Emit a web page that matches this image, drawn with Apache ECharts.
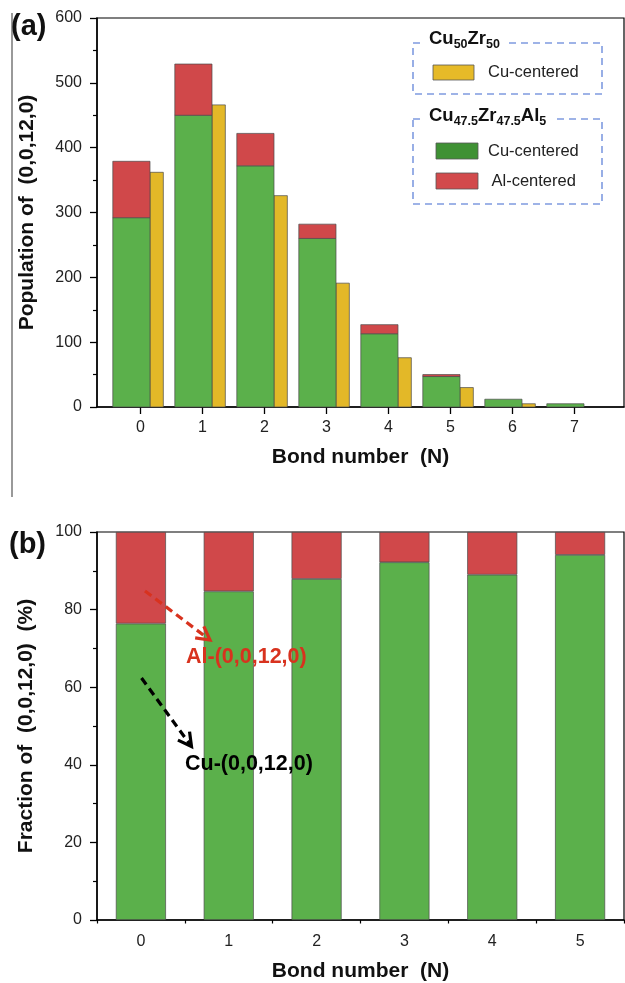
<!DOCTYPE html>
<html><head><meta charset="utf-8">
<script src="https://cdn.jsdelivr.net/npm/echarts@6/dist/echarts.min.js"></script>
<style>html,body{margin:0;padding:0;background:#fff}#c{width:625px;height:983px}</style>
</head><body><div id="c"></div>
<script>
// ---- Panel (a): population of (0,0,12,0) vs bond number ----
const bondNumbersA = [0, 1, 2, 3, 4, 5, 6, 7];
const alloyCuCentered = [292, 450, 372, 260, 113, 47, 12, 5];   // Cu47.5Zr47.5Al5, Cu-centered
const alloyAlCentered = [87, 79, 50, 22, 14, 3, 0, 0];          // Cu47.5Zr47.5Al5, Al-centered
const binaryCuCentered = [362, 466, 326, 191, 76, 30, 5, 0];    // Cu50Zr50, Cu-centered

// ---- Panel (b): fraction of (0,0,12,0) ----
const bondNumbersB = ['0', '1', '2', '3', '4', '5'];
const fractionCu = [76.4, 84.7, 87.9, 92.2, 89.0, 94.1];
const fractionAl = [23.6, 15.3, 12.1, 7.8, 11.0, 5.9];

const FONT = '"Liberation Sans", Arial, Helvetica, sans-serif';
const GREEN = '#5bb04b', RED = '#d0484a', YELLOW = '#e3b828';
const LEG_GREEN = '#3f9134', LEG_RED = '#d24a4c', LEG_YELLOW = '#e6ba28';
const ANN_RED = '#d8321e';

const chart = echarts.init(document.getElementById('c'), null, {renderer: 'canvas'});

function barRenderer(left, right, fill) {
  return function (params, api) {
    const x = api.value(0), lo = api.value(1), hi = api.value(2);
    if (hi - lo <= 0) return null;
    const p1 = api.coord([x + left, hi]);
    const p2 = api.coord([x + right, lo]);
    return {
      type: 'rect',
      shape: {x: p1[0], y: p1[1], width: p2[0] - p1[0], height: p2[1] - p1[1]},
      style: {fill: fill, stroke: '#4a4a4a', lineWidth: 0.7}
    };
  };
}

function arrow(x1, y1, x2, y2, color) {
  const ang = Math.atan2(y2 - y1, x2 - x1), L = 15, a = 0.5;
  const pA = [x2 - L * Math.cos(ang - a), y2 - L * Math.sin(ang - a)];
  const pB = [x2 - L * Math.cos(ang + a), y2 - L * Math.sin(ang + a)];
  return [
    {type: 'line', z: 100, shape: {x1: x1, y1: y1, x2: x2 - 3 * Math.cos(ang), y2: y2 - 3 * Math.sin(ang)},
     style: {stroke: color, lineWidth: 3.2, lineDash: [8, 5]}},
    {type: 'polyline', z: 100, shape: {points: [pA, [x2, y2], pB]},
     style: {stroke: color, lineWidth: 3.2, fill: null}}
  ];
}

const axisLineStyle = {color: '#000', width: 1.5};
const labelStyle = {fontSize: 16, color: '#222', fontFamily: FONT};
const nameStyle = {fontSize: 21, fontWeight: 'bold', color: '#111', fontFamily: FONT};

function legendTitle(x, y, rich) {
  return {
    type: 'text', z: 100, left: x, top: y,
    style: {
      text: rich, fill: '#111', backgroundColor: '#fff', padding: [0, 6, 0, 4],
      rich: {
        m: {fontSize: 18.5, fontWeight: 'bold', fontFamily: FONT, lineHeight: 24, fill: '#111'},
        s: {fontSize: 12.5, fontWeight: 'bold', fontFamily: FONT, lineHeight: 12, verticalAlign: 'bottom', fill: '#111'}
      }
    }
  };
}
function swatch(x, y, w, h, color) {
  return {type: 'rect', z: 100, shape: {x: x, y: y, width: w, height: h},
          style: {fill: color, stroke: '#555', lineWidth: 0.8}};
}
function legText(x, cy, t) {
  return {type: 'text', z: 100, x: x, y: cy,
          style: {text: t, fontSize: 16.5, fontFamily: FONT, fill: '#222', verticalAlign: 'middle'}};
}
const dashBox = (x, y, w, h) => ({type: 'rect', z: 99, shape: {x: x, y: y, width: w, height: h},
  style: {fill: null, stroke: '#7f9be0', lineWidth: 1.6, lineDash: [7, 5]}});

const option = {
  animation: false,
  backgroundColor: '#fff',
  grid: [
    {left: 97, right: 1, top: 18, height: 389, show: true, borderColor: '#000', borderWidth: 1.2, backgroundColor: 'transparent'},
    {left: 97, right: 1, top: 532, height: 390, show: true, borderColor: '#000', borderWidth: 1.2, backgroundColor: 'transparent'}
  ],
  xAxis: [
    {
      gridIndex: 0, type: 'value', min: -0.7, max: 7.8,
      axisLine: {onZero: false, lineStyle: axisLineStyle},
      axisTick: {customValues: bondNumbersA, length: 7, lineStyle: {color: '#000', width: 1.3}},
      axisLabel: Object.assign({customValues: bondNumbersA, margin: 13}, labelStyle),
      splitLine: {show: false},
      name: 'Bond number  (N)', nameLocation: 'middle', nameGap: 40, nameTextStyle: nameStyle
    },
    {
      gridIndex: 1, type: 'category', data: bondNumbersB, boundaryGap: true,
      axisLine: {onZero: false, lineStyle: axisLineStyle},
      axisTick: {alignWithLabel: true, length: 7, lineStyle: {color: '#000', width: 1.3}},
      axisLabel: Object.assign({margin: 14}, labelStyle),
      splitLine: {show: false},
      name: 'Bond number  (N)', nameLocation: 'middle', nameGap: 41, nameTextStyle: nameStyle
    },
    {
      gridIndex: 1, type: 'category', data: bondNumbersB, boundaryGap: true, position: 'bottom',
      axisLine: {show: false},
      axisTick: {show: true, alignWithLabel: false, length: 3.5, lineStyle: {color: '#000', width: 1.2}},
      axisLabel: {show: false}, splitLine: {show: false}
    }
  ],
  yAxis: [
    {
      gridIndex: 0, type: 'value', min: 0, max: 600, interval: 100,
      axisLine: {show: true, onZero: false, lineStyle: axisLineStyle},
      axisTick: {show: true, length: 7, lineStyle: {color: '#000', width: 1.3}},
      minorTick: {show: true, splitNumber: 2, length: 4, lineStyle: {color: '#000', width: 1.2}},
      axisLabel: Object.assign({margin: 15}, labelStyle),
      splitLine: {show: false},
      name: 'Population of  (0,0,12,0)', nameLocation: 'middle', nameGap: 59, nameTextStyle: nameStyle
    },
    {
      gridIndex: 1, type: 'value', min: 0, max: 100, interval: 20,
      axisLine: {show: true, onZero: false, lineStyle: axisLineStyle},
      axisTick: {show: true, length: 7, lineStyle: {color: '#000', width: 1.3}},
      minorTick: {show: true, splitNumber: 2, length: 4, lineStyle: {color: '#000', width: 1.2}},
      axisLabel: Object.assign({margin: 15}, labelStyle),
      splitLine: {show: false},
      name: 'Fraction of  (0,0,12,0)  (%)', nameLocation: 'middle', nameGap: 60, nameTextStyle: nameStyle
    }
  ],
  series: [
    {
      name: 'Cu50Zr50 Cu-centered', type: 'custom', xAxisIndex: 0, yAxisIndex: 0,
      renderItem: barRenderer(0.155, 0.37, YELLOW), encode: {x: 0, y: [1, 2]},
      data: bondNumbersA.map((n, i) => [n, 0, binaryCuCentered[i]])
    },
    {
      name: 'Cu47.5Zr47.5Al5 Cu-centered', type: 'custom', xAxisIndex: 0, yAxisIndex: 0,
      renderItem: barRenderer(-0.445, 0.155, GREEN), encode: {x: 0, y: [1, 2]},
      data: bondNumbersA.map((n, i) => [n, 0, alloyCuCentered[i]])
    },
    {
      name: 'Cu47.5Zr47.5Al5 Al-centered', type: 'custom', xAxisIndex: 0, yAxisIndex: 0,
      renderItem: barRenderer(-0.445, 0.155, RED), encode: {x: 0, y: [1, 2]},
      data: bondNumbersA.map((n, i) => [n, alloyCuCentered[i], alloyCuCentered[i] + alloyAlCentered[i]])
    },
    {
      name: 'Cu-(0,0,12,0)', type: 'bar', xAxisIndex: 1, yAxisIndex: 1, stack: 'f',
      barWidth: '57%', data: fractionCu,
      itemStyle: {color: GREEN, borderColor: '#4a4a4a', borderWidth: 0.7}
    },
    {
      name: 'Al-(0,0,12,0)', type: 'bar', xAxisIndex: 1, yAxisIndex: 1, stack: 'f',
      barWidth: '57%', data: fractionAl,
      itemStyle: {color: RED, borderColor: '#4a4a4a', borderWidth: 0.7}
    }
  ],
  graphic: [
    // left gray rule
    {type: 'line', z: 100, shape: {x1: 12, y1: 13, x2: 12, y2: 497}, style: {stroke: '#777', lineWidth: 1.5}},
    // panel labels
    {type: 'text', z: 100, left: 11, top: 12, style: {text: '(a)', fontSize: 29, fontWeight: 'bold', fontFamily: FONT, fill: '#111'}},
    {type: 'text', z: 100, left: 9, top: 530, style: {text: '(b)', fontSize: 29, fontWeight: 'bold', fontFamily: FONT, fill: '#111'}},
    // legend box 1
    dashBox(413, 43, 189, 51),
    legendTitle(425, 27, '{m|Cu}{s|50}{m|Zr}{s|50}'),
    swatch(433, 65, 41, 15, LEG_YELLOW),
    legText(488, 72.5, 'Cu-centered'),
    // legend box 2
    dashBox(413, 119, 189, 85),
    legendTitle(425, 104, '{m|Cu}{s|47.5}{m|Zr}{s|47.5}{m|Al}{s|5}'),
    swatch(436, 143, 42, 16, LEG_GREEN),
    legText(488, 151, 'Cu-centered'),
    swatch(436, 173, 42, 16, LEG_RED),
    legText(491.5, 181.5, 'Al-centered'),
    // annotations panel (b)
    ...arrow(145, 591, 210, 640, ANN_RED),
    {type: 'text', z: 100, x: 186, y: 657, style: {text: 'Al-(0,0,12,0)', fontSize: 21.5, fontWeight: 'bold', fontFamily: FONT, fill: ANN_RED, verticalAlign: 'middle'}},
    ...arrow(141.5, 678, 191.5, 746.5, '#000'),
    {type: 'text', z: 100, x: 185, y: 764, style: {text: 'Cu-(0,0,12,0)', fontSize: 21.5, fontWeight: 'bold', fontFamily: FONT, fill: '#000', verticalAlign: 'middle'}}
  ]
};
chart.setOption(option);
</script></body></html>
